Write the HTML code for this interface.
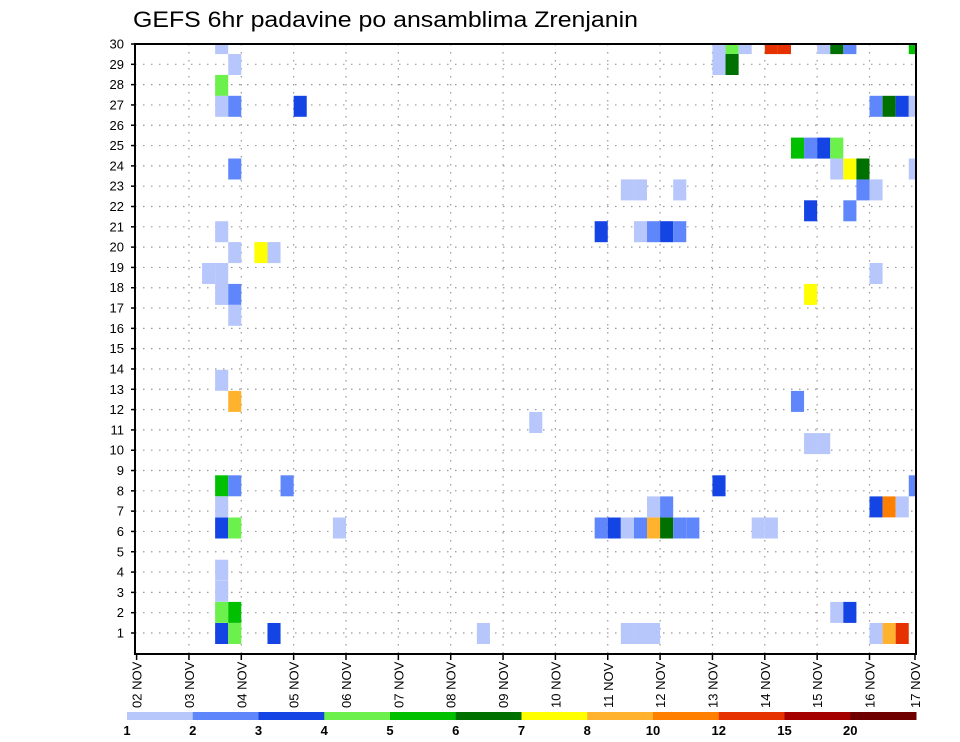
<!DOCTYPE html>
<html><head><meta charset="utf-8"><style>
body{margin:0;background:#fff;}
svg{display:block;font-family:"Liberation Sans",sans-serif;}
</style></head><body>
<svg id="chart" width="960" height="742" viewBox="0 0 960 742">
<defs><clipPath id="plotclip"><rect x="135" y="44" width="781" height="610"/></clipPath></defs>
<text x="133" y="27" font-size="22" textLength="505" lengthAdjust="spacingAndGlyphs" fill="#000">GEFS 6hr padavine po ansamblima Zrenjanin</text>
<g id="grid"></g>
<g id="cells" clip-path="url(#plotclip)"></g>
<rect x="135" y="44" width="781" height="610" fill="none" stroke="#000" stroke-width="2"/>
<g id="axes"></g>
<g id="legend"></g>
</svg>
<script>
// Data: precipitation cells [member(row), 6h step index from 02 NOV 00Z, value mm]
const rows  = [30,30,30,30,30,30,30,30,30,30, 29,29,29, 28, 27,27,27,27,27,27,27, 25,25,25,25, 24,24,24,24,24, 23,23,23,23,23, 22,22, 21,21,21,21,21,21, 20,20,20, 19,19,19, 18,18,18, 17, 13, 12,12, 11, 10,10, 8,8,8,8,8, 7,7,7,7,7,7, 6,6,6,6,6,6,6,6,6,6,6,6,6, 4,3, 2,2,2,2, 1,1,1,1,1,1,1,1,1,1];
const steps = [6,44,45,46,48,49,52,53,54,59, 7,44,45, 6, 6,7,12,56,57,58,59, 50,51,52,53, 7,53,54,55,59, 37,38,41,55,56, 51,54, 6,35,38,39,40,41, 7,9,10, 5,6,56, 6,7,51, 7, 6, 7,50, 30, 51,52, 6,7,11,44,59, 6,39,40,56,57,58, 6,7,15,35,36,37,38,39,40,41,42,47,48, 6,6, 6,7,53,54, 6,7,10,26,37,38,39,56,57,58];
const values= [1.5,1.5,4.5,1.5,13,13,1.5,6.5,2.5,5.5, 1.5,1.5,6.5, 4.5, 1.5,2.5,3.5,2.5,6.5,3.5,1.5, 5.5,2.5,3.5,4.5, 2.5,1.5,7.5,6.5,1.5, 1.5,1.5,1.5,2.5,1.5, 3.5,2.5, 1.5,3.5,1.5,2.5,3.5,2.5, 1.5,7.5,1.5, 1.5,1.5,1.5, 1.5,2.5,7.5, 1.5, 1.5, 9,2.5, 1.5, 1.5,1.5, 5.5,2.5,2.5,3.5,2.5, 1.5,1.5,2.5,3.5,11,1.5, 3.5,4.5,1.5,2.5,3.5,1.5,2.5,9,6.5,2.5,2.5,1.5,1.5, 1.5,1.5, 4.5,5.5,1.5,3.5, 3.5,4.5,3.5,1.5,1.5,1.5,1.5,1.5,9,13];
const levels = [1,2,3,4,5,6,7,8,10,12,15,20];
const levelColors = ["#b7c7fb","#5f87fb","#1444e4","#6cf04c","#00c000","#007000","#ffff00","#ffb22e","#ff8000","#e63200","#a50000","#6e0000"];
const dayLabels = ["02","03","04","05","06","07","08","09","10","11","12","13","14","15","16","17"];
const rowLabels = [1,2,3,4,5,6,7,8,9,10,11,12,13,14,15,16,17,18,19,20,21,22,23,24,25,26,27,28,29,30];

const NS="http://www.w3.org/2000/svg";
function mk(tag,attrs,parent){const e=document.createElementNS(NS,tag);for(const k in attrs)e.setAttribute(k,attrs[k]);parent.appendChild(e);return e;}
const X0=136.6, DAY=52.35, STEP=DAY/4;
function xDay(d){return X0+d*DAY;}
function xStep(s){return X0+s*STEP;}
function yLabel(r){return 633-(r-1)*20.31;}
function yCell(r){return r<=13 ? 633.5-(r-1)*21.1 : 64.5+(29-r)*20.9;}
function colorFor(v){let i=0;for(let k=0;k<levels.length;k++){if(v>=levels[k])i=k;}return levelColors[i];}

const grid=document.getElementById('grid');
rowLabels.forEach(r=>{const l=mk('line',{x1:135,x2:916,y1:yLabel(r),y2:yLabel(r),stroke:'#999','stroke-width':1.2,'stroke-dasharray':'1.5,6.5'},grid);

});
dayLabels.forEach((d,i)=>{if(i===0||i===15)return;const l=mk('line',{x1:xDay(i),x2:xDay(i),y1:44,y2:654,stroke:'#999','stroke-width':1.2,'stroke-dasharray':'1.5,6.5'},grid);

});

const cells=document.getElementById('cells');
for(let i=0;i<rows.length;i++){
  const yc=yCell(rows[i]);
  const r=mk('rect',{x:xStep(steps[i]),y:yc-10.5,width:STEP,height:21,fill:colorFor(values[i])},cells);
  
  
}

const axes=document.getElementById('axes');
rowLabels.forEach(r=>{
  const y=yLabel(r);
  mk('line',{x1:131,x2:135,y1:y,y2:y,stroke:'#000','stroke-width':1.5},axes);
  const t=mk('text',{x:124,y:y+4.5,'font-size':13,'text-anchor':'end',fill:'#000'},axes);
  t.textContent=r;
  
  
});
dayLabels.forEach((d,i)=>{
  const x=Math.min(xDay(i),915);
  mk('line',{x1:x,x2:x,y1:654,y2:660,stroke:'#000','stroke-width':1.5},axes);
  const t=mk('text',{x:0,y:0,'font-size':13,fill:'#000',transform:`translate(${x+5},708) rotate(-90)`},axes);
  t.textContent=d+' NOV';
  
  
});

const leg=document.getElementById('legend');
const LX=127, LW=(916-127)/levels.length;
levels.forEach((lv,i)=>{
  const r=mk('rect',{x:LX+i*LW,y:712,width:LW+0.5,height:8,fill:levelColors[i]},leg);
  
  
  const t=mk('text',{x:LX+i*LW,y:735,'font-size':13,'font-weight':'bold','text-anchor':'middle',fill:'#000'},leg);
  t.textContent=lv;
  
  
});
</script>
</body></html>
